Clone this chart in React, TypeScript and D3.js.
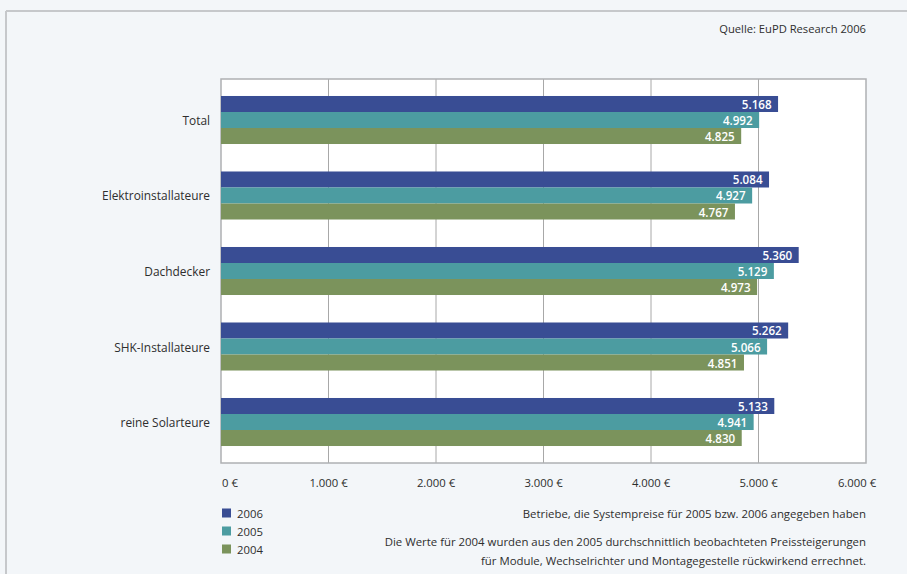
import React from "react";
import * as d3 from "d3";

const categories = ["Total", "Elektroinstallateure", "Dachdecker", "SHK-Installateure", "reine Solarteure"];
const seriesNames = ["2006", "2005", "2004"];
const values2006 = [5168, 5084, 5360, 5262, 5133];
const values2005 = [4992, 4927, 5129, 5066, 4941];
const values2004 = [4825, 4767, 4973, 4851, 4830];
const xTicks = [0, 1000, 2000, 3000, 4000, 5000, 6000];
const colors = ["#394d94", "#4c9ca1", "#7b935c"];
const sourceText = "Quelle: EuPD Research 2006";
const noteLines = [
  "Betriebe, die Systempreise für 2005 bzw. 2006 angegeben haben",
  "Die Werte für 2004 wurden aus den 2005 durchschnittlich beobachteten Preissteigerungen",
  "für Module, Wechselrichter und Montagegestelle rückwirkend errechnet.",
];

const W = 907;
const H = 574;
const FONT = "'Open Sans', Lato, sans-serif";
const TEXT = "#2e2e2e";

const de = d3.formatLocale({ decimal: ",", thousands: ".", grouping: [3], currency: ["", " €"] });
const fmtVal = de.format(",d");

export default function App() {
  const plot = { left: 221, right: 866, top: 79, bottom: 463 };
  const x = d3.scaleLinear().domain([0, 6000]).range([plot.left, plot.right]);
  const y = d3
    .scaleBand<string>()
    .domain(categories)
    .range([plot.top, plot.bottom])
    .paddingInner(0.364)
    .paddingOuter(0.225);
  const ySub = d3.scaleBand<string>().domain(seriesNames).range([0, y.bandwidth()]).padding(0);
  const seriesValues = [values2006, values2005, values2004];

  return (
    <svg width={W} height={H} style={{ position: "absolute", left: 0, top: 0, fontFamily: FONT }}>
      <rect x={0} y={0} width={W} height={H} fill="#f3f6f9" />
      {/* outer frame */}
      <line x1={6} y1={11} x2={W} y2={11} stroke="#c6c8cb" strokeWidth={2} />
      <line x1={6} y1={11} x2={6} y2={H} stroke="#c6c8cb" strokeWidth={2} />

      <text x={866} y={33} textAnchor="end" fontSize={11.2} fill={TEXT}>
        {sourceText}
      </text>

      {/* plot area */}
      <rect x={plot.left} y={plot.top} width={plot.right - plot.left} height={plot.bottom - plot.top} fill="#ffffff" />
      {xTicks.slice(1, -1).map((t) => (
        <line key={t} x1={x(t)} x2={x(t)} y1={plot.top} y2={plot.bottom} stroke="#a8a8a8" strokeWidth={1} />
      ))}
      <rect
        x={plot.left}
        y={plot.top}
        width={plot.right - plot.left}
        height={plot.bottom - plot.top}
        fill="none"
        stroke="#aeb0b3"
        strokeWidth={1.5}
      />

      {/* bars */}
      {categories.map((c, i) => (
        <g key={c}>
          <text
            x={210}
            y={(y(c) as number) + y.bandwidth() / 2}
            textAnchor="end"
            dominantBaseline="central"
            fontSize={11.9}
            fill={TEXT}
          >
            {c}
          </text>
          {seriesNames.map((s, k) => {
            const v = seriesValues[k][i];
            const by = (y(c) as number) + (ySub(s) as number);
            return (
              <g key={s}>
                <rect x={x(0)} y={by} width={x(v) - x(0) + 1.5} height={ySub.bandwidth()} fill={colors[k]} />
                <text
                  x={x(v) - 5}
                  y={by + ySub.bandwidth() / 2 + 0.5}
                  textAnchor="end"
                  dominantBaseline="central"
                  fontSize={11.6}
                  fontWeight="600"
                  fill="#ffffff"
                >
                  {fmtVal(v)}
                </text>
              </g>
            );
          })}
        </g>
      ))}

      {/* x tick labels */}
      {xTicks.map((t, i) => (
        <text
          key={t}
          x={x(t)}
          dx={i === 0 ? 1 : i === xTicks.length - 1 ? -9 : 0}
          y={482}
          textAnchor={i === 0 ? "start" : "middle"}
          dominantBaseline="central"
          fontSize={11.3}
          fill={TEXT}
        >
          {de.format("$,d")(t)}
        </text>
      ))}

      {/* legend */}
      {seriesNames.map((s, k) => (
        <g key={s} transform={`translate(222, ${513 + k * 18})`}>
          <rect x={0} y={-4.5} width={9} height={9} fill={colors[k]} />
          <text x={15} y={0} dominantBaseline="central" fontSize={11.3} fill={TEXT}>
            {s}
          </text>
        </g>
      ))}

      {/* notes */}
      {noteLines.map((l, i) => (
        <text
          key={i}
          x={866}
          y={[513, 541, 560][i]}
          textAnchor="end"
          dominantBaseline="central"
          fontSize={11.4}
          fill={TEXT}
        >
          {l}
        </text>
      ))}
    </svg>
  );
}
